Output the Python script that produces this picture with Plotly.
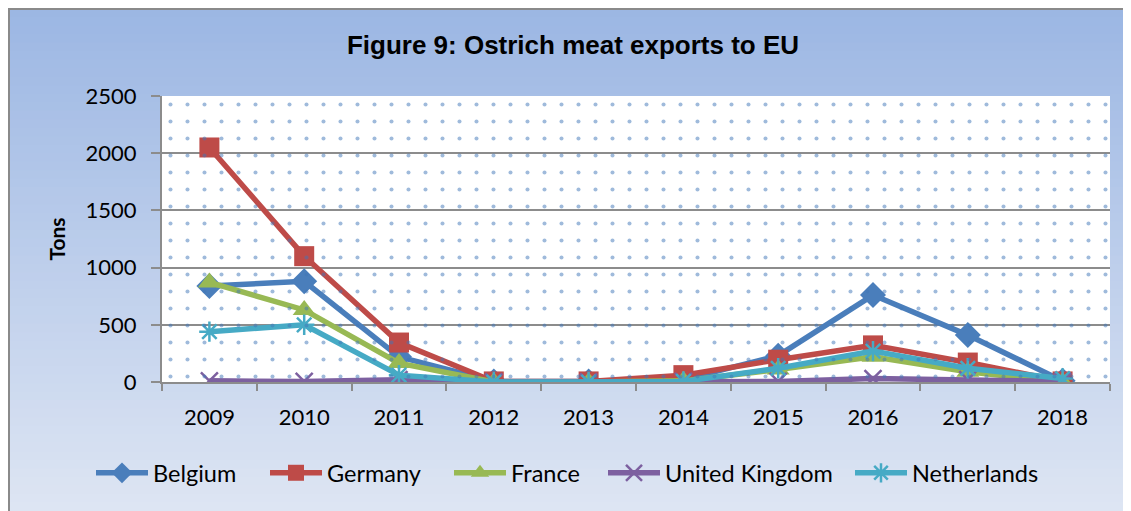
import plotly.graph_objects as go

years = ["2009", "2010", "2011", "2012", "2013", "2014", "2015", "2016", "2017", "2018"]
belgium = [840, 880, 220, 5, 5, 20, 230, 760, 410, 10]
germany = [2050, 1100, 345, 5, 5, 60, 195, 320, 170, 5]
france = [870, 630, 165, 0, 0, 10, 110, 220, 90, 0]
united_kingdom = [10, 5, 20, 0, 0, 5, 5, 30, 20, 5]
netherlands = [440, 500, 60, 0, 0, 5, 120, 270, 120, 30]

title_text = "Figure 9: Ostrich meat exports to EU"
y_title = "Tons"

# the page body adds an 8px margin, so the figure is drawn 8px smaller
OFF = 8
W, H = 1131 - OFF, 511 - OFF
L, R, T, B = 162 - OFF, 21, 96 - OFF, 511 - 382
pw, ph = W - L - R, H - T - B

def px_x(x):  # x in reference (page) pixels -> paper
    return (x - OFF - L) / pw

def px_y(y):
    return (H - B - (y - OFF)) / ph

fig = go.Figure()

# dotted plot-area pattern on an overlay axis
fig.add_trace(go.Scatter(
    x=[0, 1, 1, 0, 0], y=[0, 0, 1, 1, 0], xaxis="x2", yaxis="y2",
    mode="none", fill="toself", fillcolor="rgba(0,0,0,0)",
    fillpattern=dict(shape=".", fgcolor="#3F76B8", bgcolor="rgba(0,0,0,0)",
                     size=17, solidity=0.045),
    hoverinfo="skip", showlegend=False))

series = [
    ("Belgium", belgium, "#4A7EBB", dict(symbol="diamond", size=20), 153),
    ("Germany", germany, "#BE4B48", dict(symbol="square", size=20), 327),
    ("France", france, "#98B954", dict(symbol="triangle-up", size=20), 511),
    ("United Kingdom", united_kingdom, "#7D60A0",
     dict(symbol="x-thin-open", size=17, line=dict(width=2.5)), 665),
    ("Netherlands", netherlands, "#46AAC5",
     dict(symbol="asterisk-open", size=17, line=dict(width=2.5)), 912),
]
legends = {}
for i, (name, vals, col, mk, tx) in enumerate(series):
    m = dict(color=col, **mk)
    if "line" in m:
        m["line"]["color"] = col
    lg = "legend" if i == 0 else "legend%d" % (i + 1)
    fig.add_trace(go.Scatter(x=years, y=vals, name=name, mode="lines+markers",
                             line=dict(color=col, width=5.5), marker=m, legend=lg))
    legends[lg] = dict(orientation="h", x=px_x(tx - 62), xanchor="left", xref="paper",
                       y=px_y(473), yanchor="middle", bgcolor="rgba(0,0,0,0)",
                       font=dict(size=23.5), itemwidth=52, borderwidth=0)

# background gradient
shapes = []
n = 60
top_c = (155, 182, 227)
bot_c = (221, 229, 243)
for i in range(n):
    y0 = i * 511 / n
    y1 = (i + 1) * 511 / n + 1
    f = i / (n - 1)
    c = tuple(round(top_c[k] + (bot_c[k] - top_c[k]) * f) for k in range(3))
    shapes.append(dict(type="rect", xref="paper", yref="paper",
                       x0=px_x(0), x1=px_x(1140), y0=px_y(y1), y1=px_y(y0),
                       line=dict(width=0), fillcolor="rgb(%d,%d,%d)" % c,
                       layer="below"))
# plot-area white
shapes.append(dict(type="rect", xref="paper", yref="paper", x0=0, x1=1, y0=0, y1=1,
                   line=dict(width=0), fillcolor="white", layer="below"))
# outer border
shapes.append(dict(type="rect", xref="paper", yref="paper",
                   x0=px_x(9), x1=px_x(1150), y0=px_y(530), y1=px_y(9),
                   line=dict(width=2, color="#8A8A8A"), fillcolor="rgba(0,0,0,0)",
                   layer="above"))

fig.update_layout(
    width=W, height=H,
    margin=dict(l=L, r=R, t=T, b=B),
    paper_bgcolor="rgb(200,213,236)",
    plot_bgcolor="white",
    shapes=shapes,
    title=dict(text="<b>" + title_text + "</b>", x=(573 - OFF) / W, xref="container",
               xanchor="center", y=1 - (45 - OFF) / H, yanchor="middle",
               font=dict(family="Liberation Sans, Arial, sans-serif",
                         size=26, color="black")),
    font=dict(family="Lato, Calibri, sans-serif", size=22, color="black"),
    xaxis=dict(type="category", range=[-0.5, 9.5], showgrid=False,
               showline=True, linecolor="#8C8C8C", linewidth=2,
               ticks="outside", tickson="boundaries", ticklen=7, tickwidth=2,
               tickcolor="#8C8C8C", tickfont=dict(size=22), ticklabelstandoff=15),
    yaxis=dict(range=[0, 2500], dtick=500, showgrid=True, gridcolor="#8C8C8C",
               gridwidth=2, showline=True, linecolor="#8C8C8C", linewidth=2,
               ticks="outside", ticklen=9, tickwidth=2, tickcolor="#8C8C8C",
               tickfont=dict(size=22), ticklabelstandoff=10, zeroline=False,
               title=dict(text="<b>" + y_title + "</b>", font=dict(size=21), standoff=14)),
    xaxis2=dict(overlaying="x", range=[0, 1], visible=False, fixedrange=True),
    yaxis2=dict(overlaying="y", range=[0, 1], visible=False, fixedrange=True),
    showlegend=True,
    **legends,
)

fig.write_html("out.html")
